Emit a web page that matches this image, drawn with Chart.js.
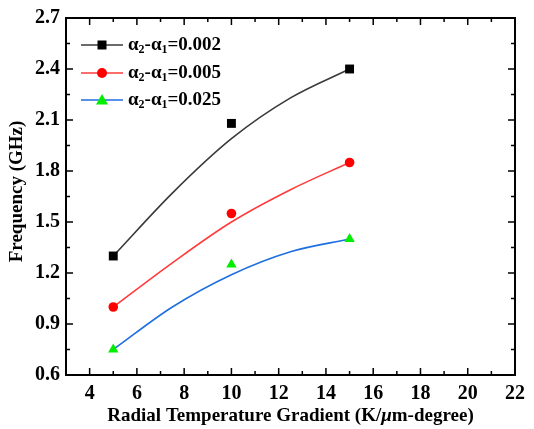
<!DOCTYPE html>
<html>
<head>
<meta charset="utf-8">
<script src="https://cdn.jsdelivr.net/npm/chart.js@4"></script>
<style>
  body { margin: 0; background: #fff; }
  #wrap { width: 534px; height: 429px; position: relative; }
</style>
</head>
<body>
<div id="wrap"><canvas id="chart"></canvas></div>
<script>
// ─── DATA ───────────────────────────────────────────────────────────
const gradient = [5, 10, 15];
const freqA = [1.30, 2.08, 2.40];   // α2-α1=0.002
const freqB = [1.00, 1.55, 1.85];   // α2-α1=0.005
const freqC = [0.75, 1.25, 1.40];   // α2-α1=0.025

// fitted curves
const fitX = [5, 7.5, 10, 12.5, 15];
const fitA = [1.30, 1.67, 1.99, 2.23, 2.40];
const fitB = [1.00, 1.26, 1.50, 1.69, 1.85];
const fitC = [0.75, 1.00, 1.19, 1.325, 1.40];

const seriesLabels = ['0.002', '0.005', '0.025'];
const xTicks = [4, 6, 8, 10, 12, 14, 16, 18, 20, 22];
const yTicks = [0.6, 0.9, 1.2, 1.5, 1.8, 2.1, 2.4, 2.7];

const SERIF = "'Liberation Serif', 'Times New Roman', serif";
const lineColors = ['#3a3a3a', '#ff3b3b', '#1e6fe0'];
const markColors = ['#000000', '#ff0000', '#00ee00'];
const markShapes = ['rect', 'circle', 'triangle'];
const markSizes = [6.3, 4.8, 6];

const pts = (xs, ys) => xs.map((x, i) => ({ x, y: ys[i] }));

const fitSet = (ys, i) => ({
  data: pts(fitX, ys), showLine: true, borderColor: lineColors[i], borderWidth: 1.6,
  pointRadius: 0, cubicInterpolationMode: 'monotone', order: 2
});
const markSet = (ys, i) => ({
  data: pts(gradient, ys), showLine: false, pointStyle: markShapes[i],
  pointRadius: markSizes[i], backgroundColor: markColors[i], borderColor: markColors[i],
  borderWidth: 0, order: 1
});

// inward ticks, frame, axis titles and legend
const decor = {
  id: 'decor',
  afterDraw(chart) {
    const { ctx, chartArea: a, scales: { x, y } } = chart;
    ctx.save();
    ctx.strokeStyle = '#000';
    ctx.lineWidth = 1.5;
    ctx.beginPath();
    for (let v = 4; v <= 22; v++) {
      const px = x.getPixelForValue(v);
      const len = v % 2 === 0 ? 7 : 4;
      ctx.moveTo(px, a.bottom); ctx.lineTo(px, a.bottom - len);
      ctx.moveTo(px, a.top); ctx.lineTo(px, a.top + len);
    }
    for (let k = 0; k <= 14; k++) {
      const py = y.getPixelForValue(0.6 + k * 0.15);
      const len = k % 2 === 0 ? 7 : 4;
      ctx.moveTo(a.left, py); ctx.lineTo(a.left + len, py);
      ctx.moveTo(a.right, py); ctx.lineTo(a.right - len, py);
    }
    ctx.stroke();
    ctx.lineWidth = 2;
    ctx.strokeRect(a.left, a.top, a.right - a.left, a.bottom - a.top);

    // x title with italic mu
    ctx.fillStyle = '#000';
    ctx.textBaseline = 'middle';
    const parts = [['Radial Temperature Gradient (K/', 'bold 19px ' + SERIF], ['μ', 'italic bold 19px ' + SERIF], ['m-degree)', 'bold 19px ' + SERIF]];
    let w = 0;
    parts.forEach(p => { ctx.font = p[1]; w += ctx.measureText(p[0]).width; });
    let cx = (a.left + a.right) / 2 - w / 2;
    parts.forEach(p => { ctx.font = p[1]; ctx.fillText(p[0], cx, 416); cx += ctx.measureText(p[0]).width; });

    // y title
    ctx.save();
    ctx.translate(17, (a.top + a.bottom) / 2 - 5);
    ctx.rotate(-Math.PI / 2);
    ctx.font = 'bold 19px ' + SERIF;
    ctx.textAlign = 'center';
    ctx.fillText('Frequency (GHz)', 0, 0);
    ctx.restore();

    // legend
    const rows = [45, 73, 100];
    rows.forEach((ry, i) => {
      ctx.strokeStyle = lineColors[i];
      ctx.lineWidth = 1.6;
      ctx.beginPath(); ctx.moveTo(81, ry); ctx.lineTo(123, ry); ctx.stroke();
      ctx.fillStyle = markColors[i];
      ctx.beginPath();
      if (i === 0) ctx.rect(97.5, ry - 4.5, 9, 9);
      else if (i === 1) ctx.arc(102, ry, 5, 0, Math.PI * 2);
      else { ctx.moveTo(102, ry - 6); ctx.lineTo(108, ry + 4.5); ctx.lineTo(96, ry + 4.5); ctx.closePath(); }
      ctx.fill();
      ctx.fillStyle = '#000';
      let tx = 128;
      const seg = [['α', 0, 19], ['2', 5, 12], ['-α', 0, 19], ['1', 5, 12], ['=' + seriesLabels[i], 0, 19]];
      seg.forEach(s => {
        ctx.font = 'bold ' + s[2] + 'px ' + SERIF;
        ctx.fillText(s[0], tx, ry + s[1]);
        tx += ctx.measureText(s[0]).width;
      });
    });
    ctx.restore();
  }
};

new Chart(document.getElementById('chart'), {
  type: 'scatter',
  data: {
    datasets: [
      fitSet(fitA, 0), fitSet(fitB, 1), fitSet(fitC, 2),
      markSet(freqA, 0), markSet(freqB, 1), markSet(freqC, 2)
    ]
  },
  options: {
    responsive: true, maintainAspectRatio: false, animation: false,
    layout: { padding: { left: 0, top: 13, right: 19, bottom: 0 } },
    plugins: { legend: { display: false }, tooltip: { enabled: false } },
    scales: {
      x: {
        type: 'linear', min: 3, max: 22,
        afterFit: s => { s.height = 54; },
        afterBuildTicks: s => { s.ticks = xTicks.map(v => ({ value: v })); },
        grid: { display: false, drawTicks: false }, border: { display: false },
        ticks: { autoSkip: false, maxRotation: 0, padding: 7, color: '#000', font: { family: SERIF, size: 20, weight: 'bold' } }
      },
      y: {
        type: 'linear', min: 0.6, max: 2.7,
        afterFit: s => { s.width = 66; },
        afterBuildTicks: s => { s.ticks = yTicks.map(v => ({ value: v })); },
        grid: { display: false, drawTicks: false }, border: { display: false },
        ticks: { padding: 6, color: '#000', callback: v => v.toFixed(1), font: { family: SERIF, size: 20, weight: 'bold' } }
      }
    }
  },
  plugins: [decor]
});
</script>
</body>
</html>
